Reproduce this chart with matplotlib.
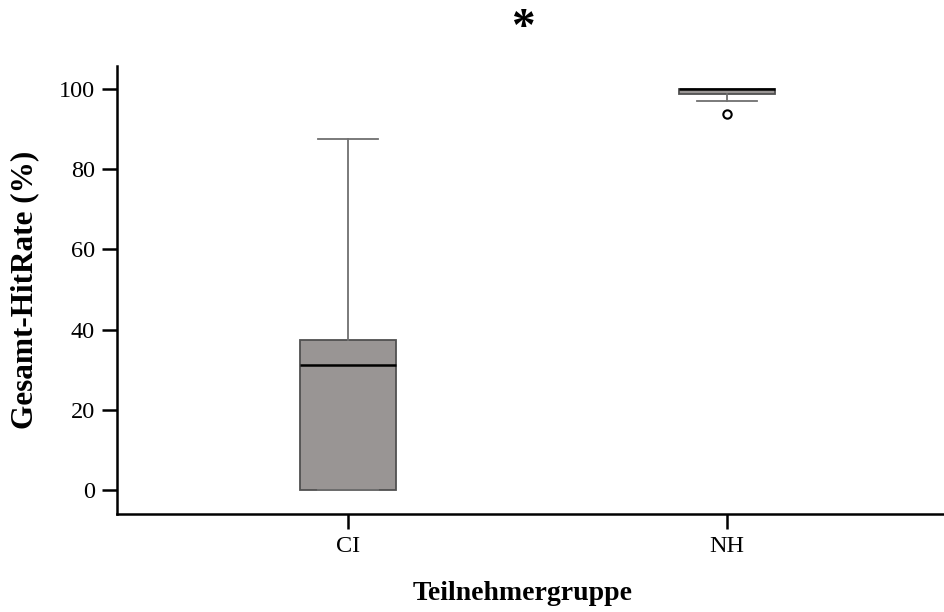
import matplotlib.pyplot as plt
import numpy as np

plt.rcParams['font.family'] = ['Liberation Serif', 'DejaVu Serif']

groups = ['CI', 'NH']
# box stats (hit rate in %)
whislo = [0.0, 97.0]
q1 = [0.0, 98.75]
med = [31.25, 100.0]
q3 = [37.5, 100.0]
whishi = [87.5, 100.0]
fliers = [[], [93.75]]

stats = []
for i, g in enumerate(groups):
    stats.append({'label': g, 'whislo': whislo[i], 'q1': q1[i], 'med': med[i],
                  'q3': q3[i], 'whishi': whishi[i], 'fliers': fliers[i]})

fig = plt.figure(figsize=(9.45, 6.12), dpi=100)
ax = fig.add_axes([0.1238, 0.160, 0.8762, 0.732])

ax.bxp(stats, positions=[0, 1], widths=0.253, patch_artist=True,
       boxprops=dict(facecolor='#999594', edgecolor='#505050', linewidth=1.3),
       medianprops=dict(color='black', linewidth=1.8),
       whiskerprops=dict(color='#707070', linewidth=1.3),
       capprops=dict(color='#707070', linewidth=1.3),
       capwidths=0.16,
       flierprops=dict(marker='o', markerfacecolor='white', markeredgecolor='black',
                       markersize=6, markeredgewidth=1.5))

ax.set_xlim(-0.61, 1.575)
ax.set_ylim(-6, 105.7)
ax.set_yticks([0, 20, 40, 60, 80, 100])
ax.set_xticks([0, 1])
ax.set_xticklabels(groups)
ax.spines['top'].set_visible(False)
ax.spines['right'].set_visible(False)
ax.spines['left'].set_linewidth(1.8)
ax.spines['bottom'].set_linewidth(1.8)
ax.tick_params(axis='both', direction='out', length=11, width=1.8, labelsize=17.5, pad=5)

ax.set_ylabel('Gesamt-HitRate (%)', fontsize=22.5, fontweight='bold', labelpad=14)
ax.set_xlabel('Teilnehmergruppe', fontsize=20, fontweight='bold')
ax.xaxis.set_label_coords(0.490, -0.178)
ax.xaxis.label.set_va('center')

# significance marker
fig.text(0.5534, 0.935, '*', ha='center', va='baseline', fontsize=34, fontweight='bold')

plt.savefig('out.png', dpi=100)
